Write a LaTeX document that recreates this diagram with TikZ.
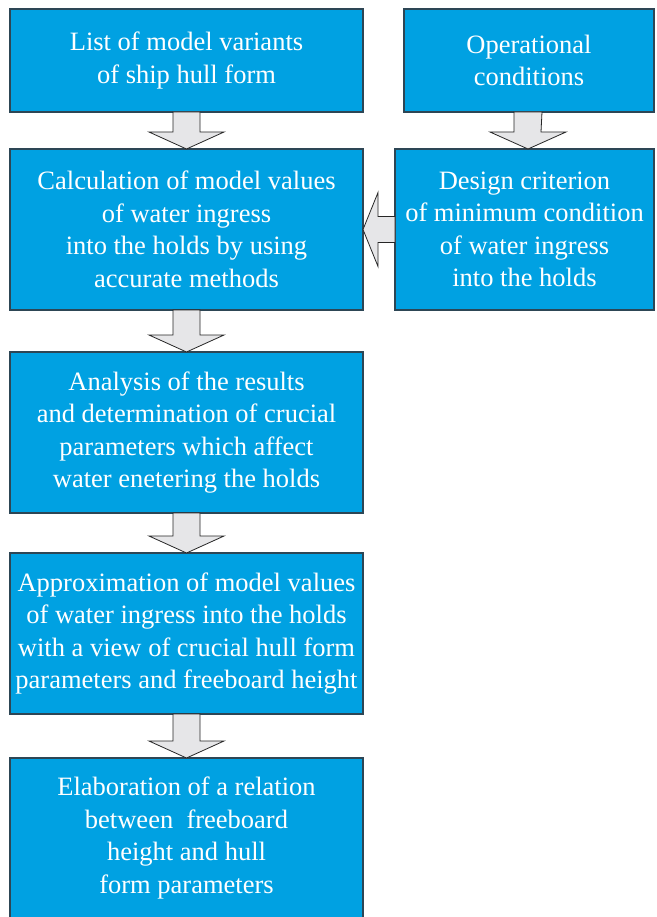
\documentclass[tikz,border=0pt]{standalone}
\usepackage{fontspec}
\setmainfont{Liberation Serif}
\usetikzlibrary{calc}
\definecolor{boxblue}{RGB}{0,161,226}
\definecolor{boxedge}{RGB}{45,70,85}
\definecolor{arrowgray}{RGB}{230,230,232}
\tikzset{
  flowbox/.style={rectangle, draw=boxedge, line width=1.6pt, fill=boxblue,
    text=white, align=center, inner sep=0pt, outer sep=0pt,
    font=\fontsize{26.5}{32.5}\selectfont},
  blockarrow/.style={draw=black!85, line width=0.8pt, fill=arrowgray, line join=miter}
}
\begin{document}
\begin{tikzpicture}[x=1pt,y=-1pt]
\fill[white] (0,0) rectangle (656,917);
\useasboundingbox (0,0) rectangle (656,917);
\node[flowbox, minimum width=353pt, minimum height=103pt] (b1) at (186.5,60.5)
  {List of model variants\\of ship hull form};
\node[flowbox, minimum width=250pt, minimum height=103pt] (b2) at (529,60.5)
  {Operational\\conditions};
\node[flowbox, minimum width=353pt, minimum height=161pt] (b3) at (186.5,229.5)
  {Calculation of model values\\of water ingress\\into the holds by using\\accurate methods};
\node[flowbox, minimum width=259pt, minimum height=161pt] (b4) at (524.5,229.5)
  {Design criterion\\of minimum condition\\of water ingress\\into the holds};
\node[flowbox, minimum width=353pt, minimum height=161pt] (b5) at (186.5,432.5)
  {Analysis of the results\\and determination of crucial\\parameters which affect\\water enetering the holds};
\node[flowbox, minimum width=353pt, minimum height=161pt] (b6) at (186.5,633.5)
  {Approximation of model values\\of water ingress into the holds\\with a view of crucial hull form\\parameters and freeboard height};
\node[flowbox, minimum width=353pt, minimum height=160pt] (b7) at (186.5,838)
  {Elaboration of a relation\\between\ \ freeboard\\height and hull\\form parameters};
% down block arrows
\foreach \a/\b in {b1/b3, b3/b5, b5/b6, b6/b7}{
  \draw[blockarrow]
    ($(\a.south)+(-13.5,0)$) -- ($(\b.north)+(-13.5,-17)$) -- ($(\b.north)+(-37.5,-17)$)
    -- (\b.north) -- ($(\b.north)+(37.5,-17)$) -- ($(\b.north)+(13.5,-17)$)
    -- ($(\a.south)+(13.5,0)$) -- cycle;
}
\coordinate (t2) at ($(b4.north)+(3.5,0)$);
\draw[blockarrow]
  ($(b2.south)+(-15,0)$) -- ($(t2)+(-14,-17)$) -- ($(t2)+(-38,-17)$)
  -- (t2) -- ($(t2)+(38,-17)$) -- ($(t2)+(13,-17)$)
  -- ($(b2.south)+(13,0)$) -- cycle;
% left block arrow
\draw[blockarrow]
  ($(b4.west)+(0,-13)$) -- ($(b3.east)+(15,-13)$) -- ($(b3.east)+(15,-37)$)
  -- (b3.east) -- ($(b3.east)+(15,37)$) -- ($(b3.east)+(15,13)$)
  -- ($(b4.west)+(0,13)$) -- cycle;
\end{tikzpicture}
\end{document}
